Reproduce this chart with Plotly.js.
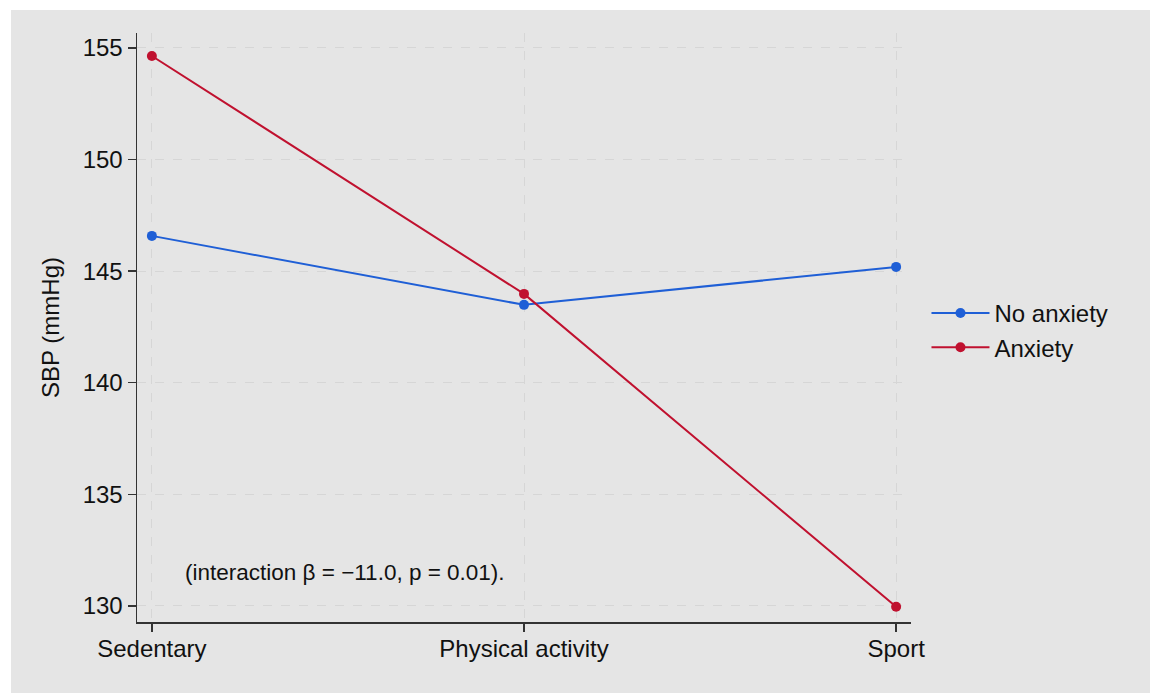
<!DOCTYPE html>
<html>
<head>
<meta charset="utf-8">
<script src="https://cdn.plot.ly/plotly-3.0.1.min.js"></script>
<style>
  html, body { margin: 0; padding: 0; background: #ffffff; }
  #bg { position: absolute; left: 11px; top: 10px; width: 1139px; height: 683px; background: #e5e5e5; }
  #chart { position: absolute; left: 0; top: 0; width: 1150px; height: 693px; }
</style>
</head>
<body>
<div id="bg"></div>
<div id="chart"></div>
<script>
const categories = ["Sedentary", "Physical activity", "Sport"];
const noAnxiety = [146.58, 143.49, 145.19];
const anxiety = [154.64, 143.98, 129.96];
const yTicks = [130, 135, 140, 145, 150, 155];
const seriesNames = ["No anxiety", "Anxiety"];
const annotationText = "(interaction β = −11.0, p = 0.01).";

const blue = "#1f5fd6";
const red = "#c0112f";
const font = "Liberation Sans, Arial, Helvetica, sans-serif";

const traces = [
  {
    x: [0, 1, 2], y: noAnxiety, name: seriesNames[0],
    type: "scatter", mode: "lines+markers",
    line: { color: blue, width: 2 },
    marker: { color: blue, size: 10 }
  },
  {
    x: [0, 1, 2], y: anxiety, name: seriesNames[1],
    type: "scatter", mode: "lines+markers",
    line: { color: red, width: 2 },
    marker: { color: red, size: 10 }
  }
];

const layout = {
  width: 1150, height: 693,
  paper_bgcolor: "rgba(0,0,0,0)",
  plot_bgcolor: "rgba(0,0,0,0)",
  margin: { l: 137, r: 239, t: 33, b: 71 },
  font: { family: font, color: "#111111", size: 24 },
  showlegend: true,
  legend: {
    x: 1.02, xanchor: "left", y: 0.495, yanchor: "middle",
    font: { size: 24, family: font, color: "#111111" },
    bgcolor: "rgba(0,0,0,0)", tracegroupgap: 0, itemwidth: 58
  },
  xaxis: {
    range: [-0.04, 2.04],
    tickmode: "array", tickvals: [0, 1, 2], ticktext: categories,
    showline: true, linecolor: "#333333", linewidth: 1.5,
    ticks: "outside", ticklen: 8, tickcolor: "#333333", tickwidth: 1.5,
    ticklabelstandoff: -3,
    showgrid: true, gridcolor: "#d6d6d6", griddash: "dash", gridwidth: 1,
    zeroline: false,
    tickfont: { size: 24, family: font, color: "#111111" }
  },
  yaxis: {
    range: [129.28, 155.67],
    tickmode: "array", tickvals: yTicks,
    showline: true, linecolor: "#333333", linewidth: 1.5,
    ticks: "outside", ticklen: 8, tickcolor: "#333333", tickwidth: 1.5,
    showgrid: true, gridcolor: "#d6d6d6", griddash: "dash", gridwidth: 1,
    zeroline: false,
    tickfont: { size: 24, family: font, color: "#111111" },
    title: { text: "SBP (mmHg)", font: { size: 24, family: font, color: "#111111" }, standoff: 16 }
  },
  annotations: [
    {
      text: annotationText, xref: "x", yref: "y", x: 0.52, y: 131.48,
      showarrow: false, xanchor: "center", yanchor: "middle",
      font: { size: 22.5, family: font, color: "#111111" }
    }
  ]
};

Plotly.newPlot("chart", traces, layout, { displayModeBar: false, staticPlot: true });
</script>
</body>
</html>
